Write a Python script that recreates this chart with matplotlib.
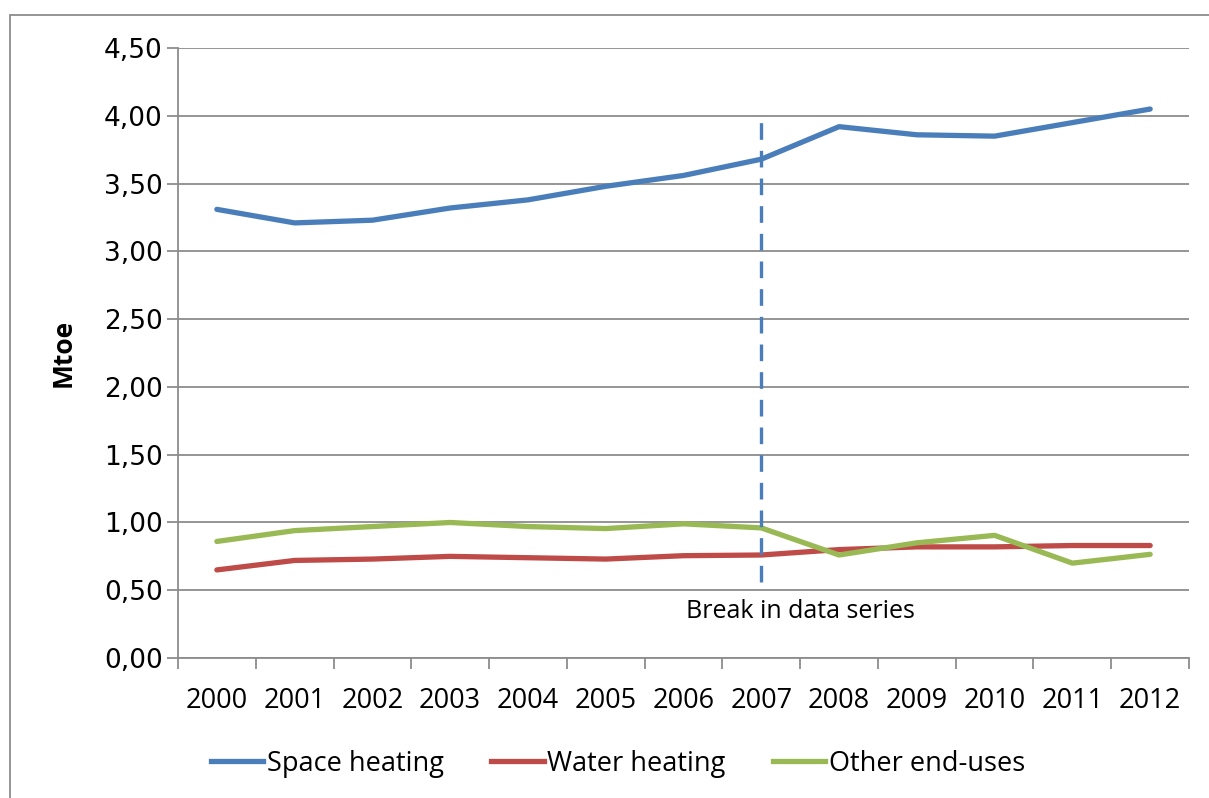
import matplotlib
matplotlib.use("Agg")
import matplotlib.pyplot as plt
from matplotlib.ticker import FixedLocator, FuncFormatter
from matplotlib.lines import Line2D
from matplotlib.patches import Rectangle

# Final energy consumption by end-use (Mtoe)
years = ["2000", "2001", "2002", "2003", "2004", "2005", "2006",
         "2007", "2008", "2009", "2010", "2011", "2012"]
space_heating = [3.31, 3.21, 3.23, 3.32, 3.38, 3.48, 3.56,
                 3.68, 3.92, 3.86, 3.85, 3.95, 4.05]
water_heating = [0.65, 0.72, 0.73, 0.75, 0.74, 0.73, 0.755,
                 0.76, 0.80, 0.82, 0.82, 0.83, 0.83]
other_end_uses = [0.86, 0.94, 0.97, 1.00, 0.97, 0.955, 0.99,
                  0.96, 0.76, 0.85, 0.905, 0.70, 0.765]
series_names = ["Space heating", "Water heating", "Other end-uses"]
break_year = "2007"
break_label = "Break in data series"

BLUE = "#4A7EBB"
RED = "#BE4B48"
GREEN = "#98B954"
GRID = "#8C8C8C"

fig = plt.figure(figsize=(12.09, 7.98), dpi=100)
ax = fig.add_axes([0.1472, 0.1754, 0.8363, 0.7644])

x = list(range(len(years)))
lw = 3.8
ax.plot(x, space_heating, color=BLUE, lw=lw, solid_capstyle="round", solid_joinstyle="round", zorder=3)
ax.plot(x, water_heating, color=RED, lw=lw, solid_capstyle="round", solid_joinstyle="round", zorder=3)
ax.plot(x, other_end_uses, color=GREEN, lw=lw, solid_capstyle="round", solid_joinstyle="round", zorder=4)

# break in series marker
bx = years.index(break_year)
ax.plot([bx, bx], [0.56, 4.0], color=BLUE, lw=2.4, dashes=(5, 3.3), zorder=5)
ax.text(bx + 0.5, 0.34, break_label, ha="center", va="center",
        fontsize=18, family="Open Sans", color="black")

ax.set_xlim(-0.5, len(years) - 0.5)
ax.set_ylim(0, 4.5)

ax.yaxis.set_major_locator(FixedLocator([i * 0.5 for i in range(10)]))
ax.yaxis.set_major_formatter(FuncFormatter(lambda v, p: f"{v:.2f}".replace(".", ",")))
ax.grid(axis="y", color=GRID, lw=1.3)
ax.set_axisbelow(True)

ax.set_xticks(x)
ax.set_xticklabels(years)
ax.xaxis.set_minor_locator(FixedLocator([i - 0.5 for i in range(len(years) + 1)]))
ax.tick_params(axis="x", which="major", length=0, pad=21, labelsize=19.5)
ax.tick_params(axis="x", which="minor", length=8, width=1.3, color=GRID)
ax.tick_params(axis="y", length=8, width=1.3, color=GRID, labelsize=19, pad=3)
for lab in ax.get_xticklabels():
    lab.set_family("Open Sans")
for lab in ax.get_yticklabels():
    lab.set_family("DejaVu Sans")

for side in ("top", "right"):
    ax.spines[side].set_visible(False)
for side in ("left", "bottom"):
    ax.spines[side].set_color(GRID)
    ax.spines[side].set_linewidth(1.3)

ax.set_ylabel("Mtoe", fontsize=19, fontweight="bold", family="Open Sans", labelpad=20)

handles = [Line2D([], [], color=c, lw=lw) for c in (BLUE, RED, GREEN)]
fig.legend(handles, series_names, loc="center", bbox_to_anchor=(0.511, 0.043),
           ncol=3, frameon=False, handlelength=1.95, handletextpad=0.12,
           columnspacing=1.75, prop={"family": "Open Sans", "size": 19.5})

# outer chart border (left and top edges)
fig.patches.append(Rectangle((10 / 1209, -0.1), 1.2, 1.1 - 15 / 798,
                             transform=fig.transFigure, fill=False,
                             edgecolor=GRID, lw=1.3))

fig.savefig("out.png", dpi=100)
